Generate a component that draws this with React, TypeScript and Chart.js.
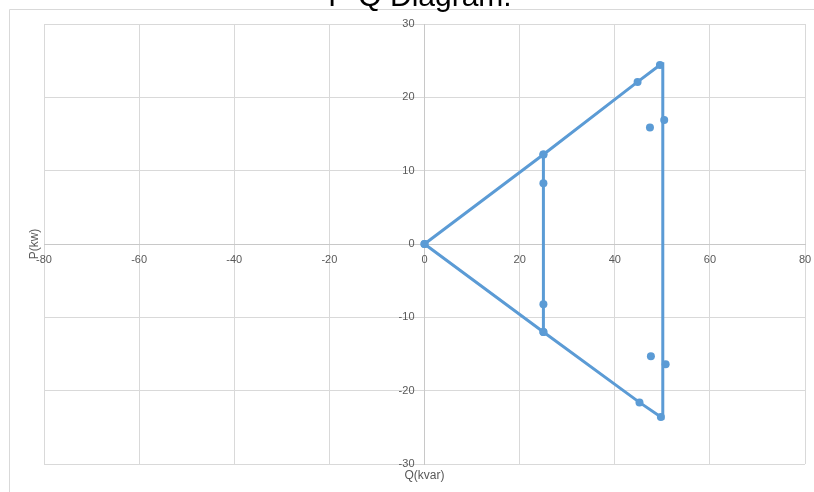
import React, { useEffect, useRef } from "react";
import { Chart, registerables } from "chart.js";

Chart.register(...registerables);

// Q (kvar) on x, P (kw) on y
const upperQ = [0, 25, 44.8, 49.5];
const upperP = [0, 12.2, 22.1, 24.4];
const lowerQ = [0, 25, 45.2, 49.7];
const lowerP = [0, -12, -21.6, -23.6];
const innerQ = [25, 25, 25, 25];
const innerP = [12.2, 8.3, -8.2, -12];
const outerQ = [50.1, 50.1];
const outerP = [24.8, -24];
const looseQ = [47.4, 50.4, 47.6, 50.7];
const looseP = [15.9, 16.9, -15.3, -16.4];

const xTicks = [-80, -60, -40, -20, 0, 20, 40, 60, 80];
const yTicks = [-30, -20, -10, 0, 10, 20, 30];

const TITLE = "P-Q Diagram.";
const X_TITLE = "Q(kvar)";
const Y_TITLE = "P(kw)";

const BLUE = "#5B9BD5";
const GRID = "#d9d9d9";
const TEXT = "#595959";
const FONT = "11px 'Liberation Sans', Arial, sans-serif";

const pts = (xs: number[], ys: number[]) => xs.map((x, i) => ({ x, y: ys[i] }));

const decorPlugin = {
  id: "decor",
  beforeDraw(chart: any) {
    const { ctx } = chart;
    ctx.save();
    ctx.strokeStyle = GRID;
    ctx.lineWidth = 1;
    ctx.beginPath();
    ctx.moveTo(9.5, 600);
    ctx.lineTo(9.5, 9.5);
    ctx.lineTo(900, 9.5);
    ctx.stroke();
    ctx.restore();
  },
  afterDraw(chart: any) {
    const { ctx, chartArea, scales } = chart;
    const xs = scales.x;
    const ys = scales.y;
    const x0 = xs.getPixelForValue(0);
    const y0 = ys.getPixelForValue(0);
    ctx.save();
    // tick labels
    ctx.fillStyle = TEXT;
    ctx.font = FONT;
    ctx.textAlign = "center";
    ctx.textBaseline = "middle";
    xTicks.forEach((v) => ctx.fillText(String(v), xs.getPixelForValue(v), y0 + 16));
    ctx.textAlign = "right";
    yTicks.forEach((v) => ctx.fillText(String(v), x0 - 10, ys.getPixelForValue(v)));

    // title
    ctx.fillStyle = "#000000";
    ctx.font = "30px 'Liberation Sans', Arial, sans-serif";
    ctx.textAlign = "center";
    ctx.textBaseline = "alphabetic";
    ctx.fillText(TITLE, 420, 6);

    // axis titles
    ctx.fillStyle = TEXT;
    ctx.font = "12px 'Liberation Sans', Arial, sans-serif";
    ctx.textBaseline = "middle";
    const cx = (chartArea.left + chartArea.right) / 2;
    ctx.fillText(X_TITLE, cx, 476);
    ctx.translate(35, (chartArea.top + chartArea.bottom) / 2);
    ctx.rotate(-Math.PI / 2);
    ctx.fillText(Y_TITLE, 0, 0);
    ctx.restore();
  },
};

export default function App() {
  const ref = useRef<HTMLCanvasElement | null>(null);

  useEffect(() => {
    document.body.style.margin = "0";
    if (!ref.current) return;
    const lineDs = (label: string, data: any[], radius: number) => ({
      label,
      data,
      showLine: true,
      borderColor: BLUE,
      backgroundColor: BLUE,
      borderWidth: 3,
      pointRadius: radius,
      pointBorderWidth: 0,
      pointBackgroundColor: BLUE,
      tension: 0,
    });
    const chart = new Chart(ref.current, {
      type: "scatter",
      data: {
        datasets: [
          lineDs("upper", pts(upperQ, upperP), 4),
          lineDs("lower", pts(lowerQ, lowerP), 4),
          lineDs("inner", pts(innerQ, innerP), 4),
          lineDs("outer", pts(outerQ, outerP), 0),
          {
            label: "loose",
            data: pts(looseQ, looseP),
            showLine: false,
            backgroundColor: BLUE,
            borderColor: BLUE,
            pointRadius: 4,
            pointBorderWidth: 0,
          },
        ],
      },
      options: {
        responsive: false,
        animation: false,
        layout: { padding: { left: 44, right: 9, top: 24, bottom: 28 } },
        plugins: {
          legend: { display: false },
          tooltip: { enabled: false },
          title: { display: false },
        },
        scales: {
          x: {
            type: "linear",
            position: { y: 0 } as any,
            min: -80,
            max: 80,
            afterBuildTicks: (axis: any) => {
              axis.ticks = xTicks.map((v) => ({ value: v }));
            },
            grid: { color: GRID, lineWidth: 1, drawTicks: false },
            border: { color: "#c8c8c8", width: 1 },
            ticks: { display: false },
          },
          y: {
            type: "linear",
            position: { x: 0 } as any,
            min: -30,
            max: 30,
            afterBuildTicks: (axis: any) => {
              axis.ticks = yTicks.map((v) => ({ value: v }));
            },
            grid: { color: GRID, lineWidth: 1, drawTicks: false },
            border: { color: "#c8c8c8", width: 1 },
            ticks: { display: false },
          },
        },
      },
      plugins: [decorPlugin],
    });
    return () => chart.destroy();
  }, []);

  return (
    <div style={{ position: "absolute", left: 0, top: 0, width: 814, height: 492 }}>
      <canvas ref={ref} width={814} height={492} style={{ width: 814, height: 492 }} />
    </div>
  );
}
